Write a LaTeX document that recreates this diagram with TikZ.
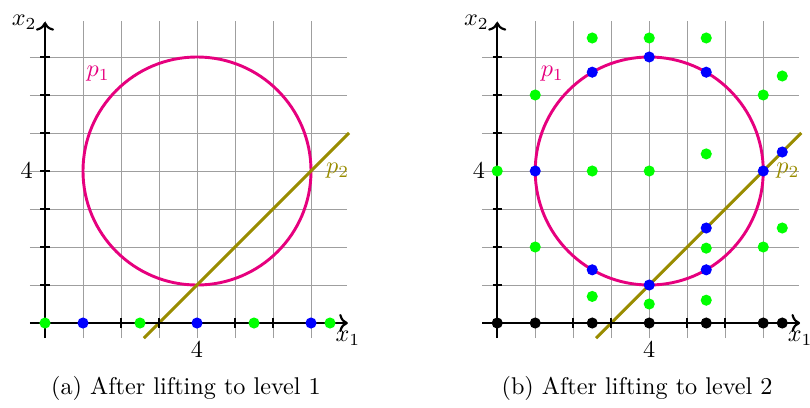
\documentclass[tikz,border=0pt]{standalone}
\usepackage{tikz}
\usetikzlibrary{arrows.meta,positioning}
\definecolor{circmag}{RGB}{230,0,126}
\definecolor{lineolive}{RGB}{153,140,0}

\begin{document}
\begin{tikzpicture}[x=0.552cm,y=0.552cm,
  gridline/.style={gray!75,line width=0.4pt,step=1},
  axis/.style={->,line width=0.9pt},
  tick/.style={line width=0.9pt},
  pcirc/.style={circmag,line width=1.2pt},
  pline/.style={lineolive,line width=1.2pt},
  pdot/.style={circle,fill=#1,inner sep=0pt,minimum size=4.6pt}]
  \useasboundingbox (-1.184,-2.21) rectangle (20.13,8.5);
  % left: level 1
  \begin{scope}
    \draw[gridline] (-0.4,-0.4) grid (7.95,7.95);
    \draw[pcirc] (4,4) circle (3);
    \draw[pline] (2.6,-0.4) -- (8,5);
    \coordinate (a-xs) at (-0.4,0); \coordinate (a-xe) at (7.97,0);
    \coordinate (a-ys) at (0,-0.4); \coordinate (a-ye) at (0,7.92);
    \draw[axis] (a-xs) -- (a-xe); \draw[axis] (a-ys) -- (a-ye);
    \foreach \t in {1,...,7} {
      \draw[tick] (\t,-0.12) -- (\t,0.12);
      \draw[tick] (-0.12,\t) -- (0.12,\t);
    }
    \node[below=0pt of a-xe] (a-x1) {$x_1$};
    \node[left=0pt of a-ye] (a-x2) {$x_2$};
    \node[below] (a-t4x) at (4,-0.28) {$4$};
    \node[left] (a-t4y) at (-0.1,4) {$4$};
    \node[circmag] (a-p1) at (1.4,6.55) {$p_1$};
    \node[lineolive] (a-p2) at (7.7,4) {$p_2$};
    \foreach \x [count=\i] in {0,2.5,5.5,7.5}
      \node[pdot=green] (a-g\i) at (\x,0) {};
    \foreach \x [count=\i] in {1,4,7}
      \node[pdot=blue] (a-b\i) at (\x,0) {};
    \node (a-cap) at (3.71,-1.72) {(a) After lifting to level 1};
  \end{scope}
  % right: level 2
  \begin{scope}[shift={(11.9,0)}]
    \draw[gridline] (-0.4,-0.4) grid (7.95,7.95);
    \draw[pcirc] (4,4) circle (3);
    \draw[pline] (2.6,-0.4) -- (8,5);
    \coordinate (b-xs) at (-0.4,0); \coordinate (b-xe) at (7.97,0);
    \coordinate (b-ys) at (0,-0.4); \coordinate (b-ye) at (0,7.92);
    \draw[axis] (b-xs) -- (b-xe); \draw[axis] (b-ys) -- (b-ye);
    \foreach \t in {1,...,7} {
      \draw[tick] (\t,-0.12) -- (\t,0.12);
      \draw[tick] (-0.12,\t) -- (0.12,\t);
    }
    \node[below=0pt of b-xe] (b-x1) {$x_1$};
    \node[left=0pt of b-ye] (b-x2) {$x_2$};
    \node[below] (b-t4x) at (4,-0.28) {$4$};
    \node[left] (b-t4y) at (-0.1,4) {$4$};
    \node[circmag] (b-p1) at (1.45,6.55) {$p_1$};
    \node[lineolive] (b-p2) at (7.65,4) {$p_2$};
    \foreach \x [count=\i] in {0,1,2.5,4,5.5,7,7.5}
      \node[pdot=black] (b-k\i) at (\x,0) {};
    \foreach \x/\y [count=\i] in {0/4,1/6,1/2,2.5/7.5,2.5/4,2.5/0.7,4/7.5,4/4,4/0.5,
        5.5/7.5,5.5/4.45,5.5/1.97,5.5/0.6,7/6,7/2,7.5/6.5,7.5/2.5}
      \node[pdot=green] (b-g\i) at (\x,\y) {};
    \foreach \x/\y [count=\i] in {1/4,2.5/6.6,2.5/1.4,4/7,4/1,5.5/6.6,5.5/2.5,5.5/1.4,7/4,7.5/4.5}
      \node[pdot=blue] (b-b\i) at (\x,\y) {};
    \node (b-cap) at (3.68,-1.72) {(b) After lifting to level 2};
  \end{scope}
\end{tikzpicture}
\end{document}
